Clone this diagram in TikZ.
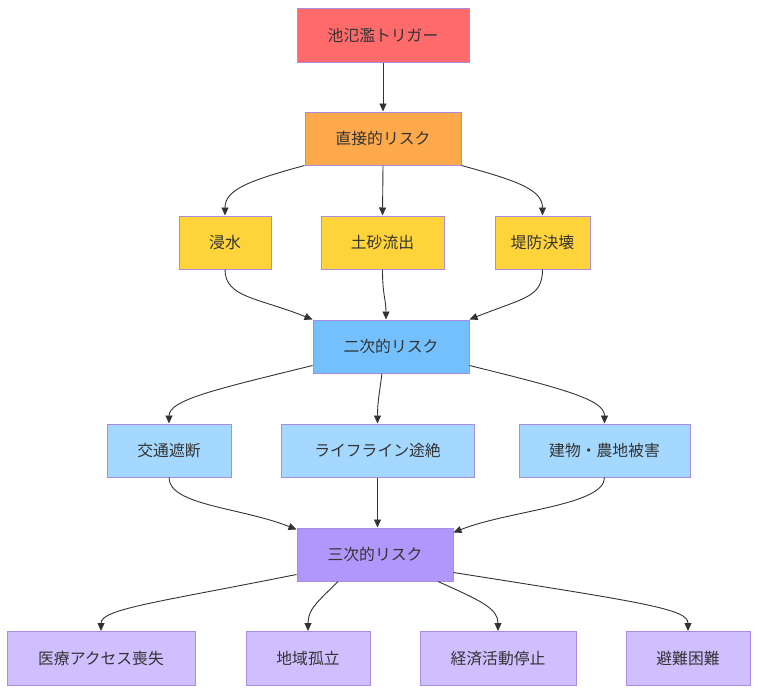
\documentclass[tikz,border=0pt]{standalone}
\usepackage{fontspec}
\usetikzlibrary{arrows.meta}
\newfontfamily\cjk{Noto Sans CJK JP}
\newlength{\du}
\setlength{\du}{1pt}
\definecolor{trigfill}{HTML}{FF6B6B}
\definecolor{directfill}{HTML}{FFA94D}
\definecolor{firstfill}{HTML}{FFD43B}
\definecolor{secondfill}{HTML}{74C0FC}
\definecolor{secondsub}{HTML}{A5D8FF}
\definecolor{thirdfill}{HTML}{B197FC}
\definecolor{thirdsub}{HTML}{D0BFFF}
\definecolor{boxline}{HTML}{A98BE0}
\definecolor{linkline}{HTML}{333333}
\tikzset{
  riskbox/.style={draw=boxline, line width=1\du, inner sep=0pt, minimum height=53\du,
    text=linkline, font=\cjk\fontsize{15.8}{18}\selectfont},
  link/.style={draw=linkline, line width=0.9\du, -{Triangle[length=8pt,width=7pt]}}
}

\begin{document}
\begin{tikzpicture}[x=1\du,y=-1\du]
\useasboundingbox (0,0) rectangle (758,694);
% levels 1 and 2
\node[riskbox, fill=trigfill, minimum width=172\du, minimum height=54\du] (trig) at (383,35) {池氾濫トリガー};
\node[riskbox, fill=directfill, minimum width=156\du] (direct) at (383,138.5) {直接的リスク};
% first-order damage
\node[riskbox, fill=firstfill, minimum width=92\du] (shinsui) at (225,242.5) {浸水};
\node[riskbox, fill=firstfill, minimum width=123\du] (dosha) at (382.5,242.5) {土砂流出};
\node[riskbox, fill=firstfill, minimum width=95\du] (teibou) at (542.5,242.5) {堤防決壊};
% secondary risk
\node[riskbox, fill=secondfill, minimum width=156\du] (niji) at (391,346.5) {二次的リスク};
\node[riskbox, fill=secondsub, minimum width=124\du] (koutsu) at (169,450.5) {交通遮断};
\node[riskbox, fill=secondsub, minimum width=193\du] (life) at (377.5,450.5) {ライフライン途絶};
\node[riskbox, fill=secondsub, minimum width=171\du] (tatemono) at (604.5,450.5) {建物・農地被害};
% tertiary risk
\node[riskbox, fill=thirdfill, minimum width=156\du] (sanji) at (375,554.5) {三次的リスク};
\node[riskbox, fill=thirdsub, minimum width=188\du, minimum height=54\du] (iryou) at (101,658.5) {医療アクセス喪失};
\node[riskbox, fill=thirdsub, minimum width=124\du, minimum height=54\du] (chiiki) at (308,658.5) {地域孤立};
\node[riskbox, fill=thirdsub, minimum width=156\du, minimum height=54\du] (keizai) at (498,658.5) {経済活動停止};
\node[riskbox, fill=thirdsub, minimum width=124\du, minimum height=54\du] (hinan) at (688,658.5) {避難困難};

\draw[link] (trig.south) -- (direct.north);
\draw[link] (direct.south west) .. controls +(-55,15) and +(0,-26) .. (shinsui.north);
\draw[link] (direct.south) -- (dosha.north);
\draw[link] (direct.south east) .. controls +(55,15) and +(0,-26) .. (teibou.north);

\draw[link] (shinsui.south) .. controls +(0,28) and +(-55,-22) .. (niji.north west);
\draw[link] (dosha.south) .. controls +(0,26) and +(0,-20) .. ([xshift=-5\du]niji.north);
\draw[link] (teibou.south) .. controls +(0,28) and +(55,-22) .. (niji.north east);

\draw[link] ([yshift=8\du]niji.south west) .. controls +(-93,23) and +(0,-24) .. (koutsu.north);
\draw[link] ([xshift=-9\du]niji.south) .. controls +(-3,22) and +(0,-20) .. (life.north);
\draw[link] ([yshift=8\du]niji.south east) .. controls +(93,23) and +(0,-24) .. (tatemono.north);

\draw[link] (koutsu.south) .. controls +(0,28) and +(-55,-22) .. ([yshift=-2\du]sanji.north west);
\draw[link] (life.south) -- ([xshift=2.5\du]sanji.north);
\draw[link] (tatemono.south) .. controls +(0,28) and +(55,-22) .. ([yshift=-5\du]sanji.north east);

\draw[link] ([yshift=7\du]sanji.south west) .. controls +(-140,28) and +(0,-22) .. (iryou.north);
\draw[link] ([xshift=-37\du]sanji.south) .. controls +(-20,20) and +(0,-22) .. (chiiki.north);
\draw[link] ([xshift=63\du]sanji.south) .. controls +(45,20) and +(0,-22) .. (keizai.north);
\draw[link] ([yshift=9\du]sanji.south east) .. controls +(190,30) and +(0,-22) .. (hinan.north);
\end{tikzpicture}
\end{document}
